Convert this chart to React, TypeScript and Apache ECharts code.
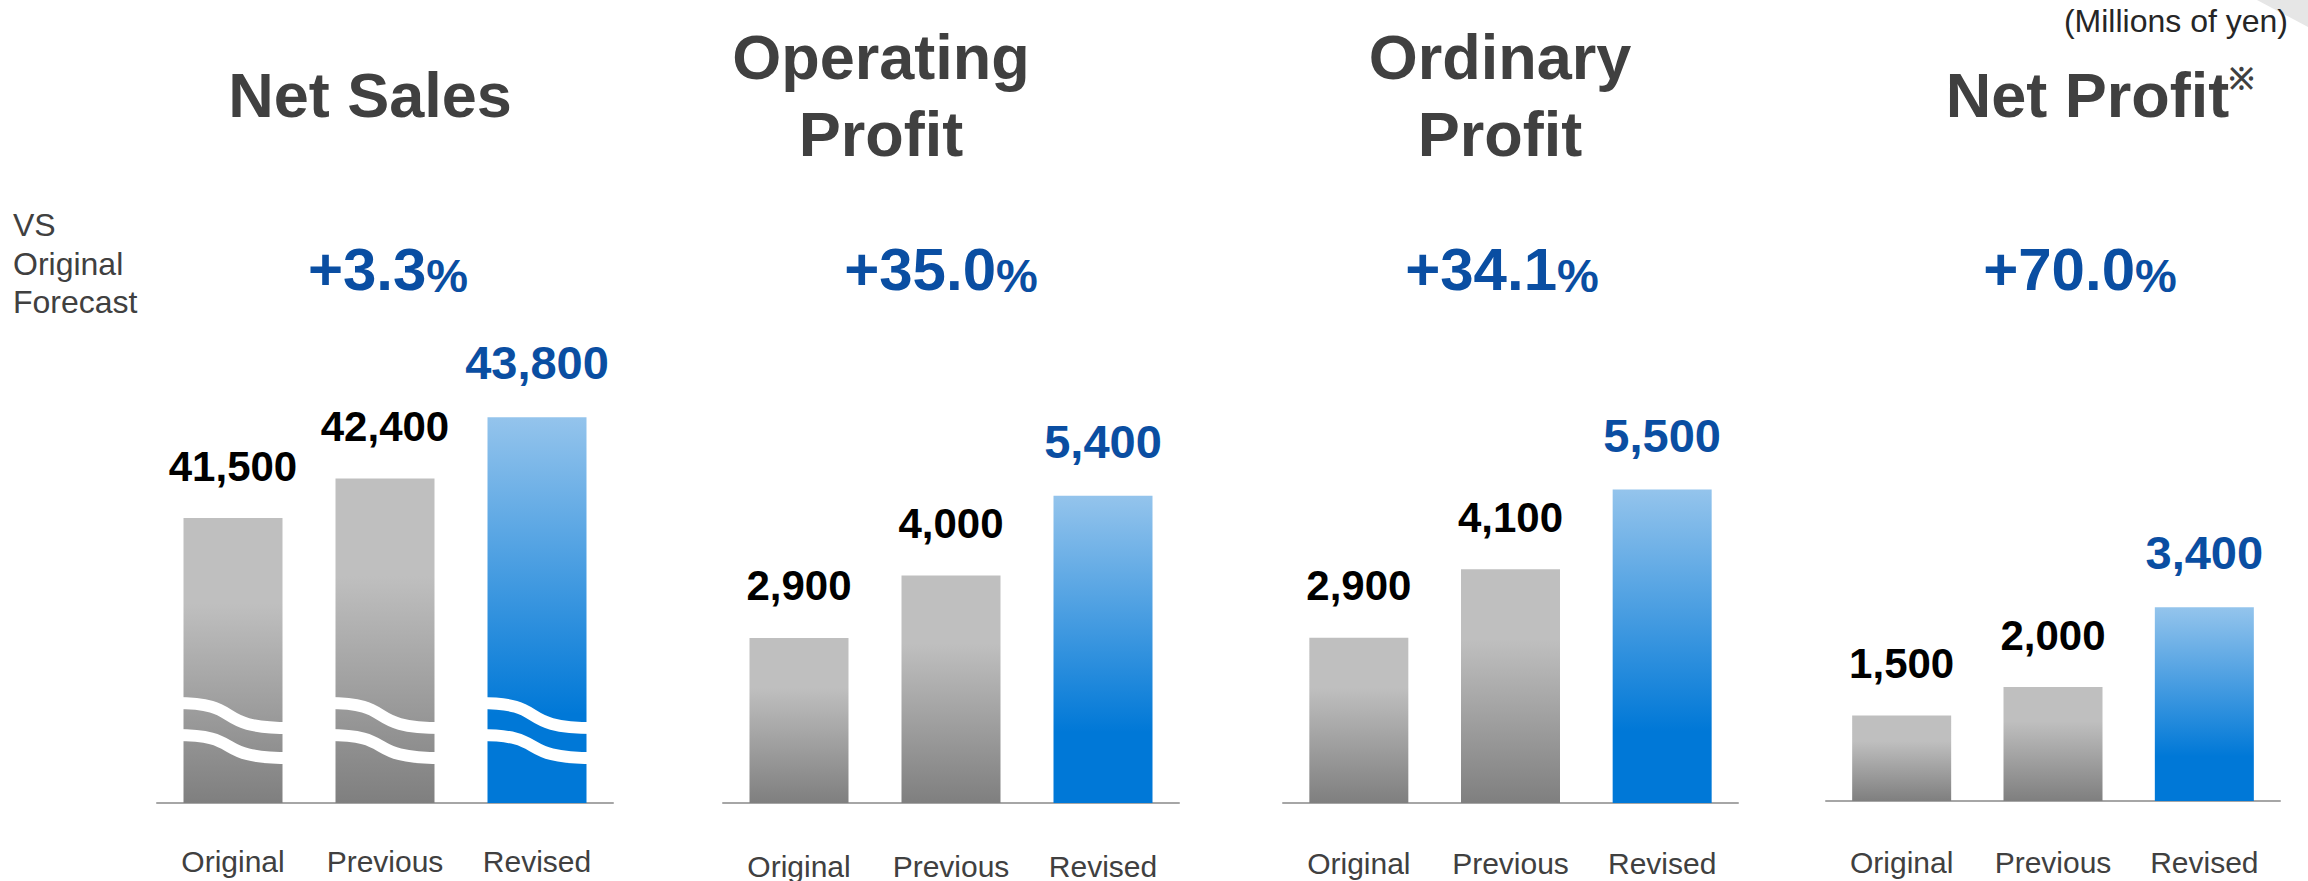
import React, { useEffect, useRef } from "react";
import * as echarts from "echarts";

// ---------- data ----------
const categories = ["Original", "Previous", "Revised"];
const panelTitles = ["Net Sales", "Operating\nProfit", "Ordinary\nProfit", "Net Profit"];
const netProfitNoteMark = "※";
const netSales = [41500, 42400, 43800];
const operatingProfit = [2900, 4000, 5400];
const ordinaryProfit = [2900, 4100, 5500];
const netProfit = [1500, 2000, 3400];
const changeVsOriginal = ["+3.3", "+35.0", "+34.1", "+70.0"];
const percentSign = "%";
const netSalesAxisMin = 35000;
const netSalesAxisMax = 48000;
const profitAxisMax = 10000;
const netSalesBreakValue = 36640;
const unitLabel = "(Millions of yen)";
const rowLabel = "VS\nOriginal\nForecast";

const panelValues = [netSales, operatingProfit, ordinaryProfit, netProfit];

// ---------- layout / style ----------
const FONT = "'Liberation Sans', Arial, sans-serif";
const BAR_WIDTH = 99;
const grids = [
  { left: 157, top: 233, width: 456, height: 570 },
  { left: 723, top: 234, width: 456, height: 570 },
  { left: 1283, top: 233, width: 455, height: 570 },
  { left: 1826, top: 231, width: 454, height: 570 },
];
const titleX = [370, 881, 1500, 2100];
const titleY = 95;
const pctX = [388, 941, 1502, 2080];
const pctY = 269;
const labelMargins = [43, 48, 45, 46];
const TITLE_COLOR = "#404040";
const BLUE_TEXT = "#0a4ea2";

const grayFill = () =>
  new echarts.graphic.LinearGradient(0, 0, 0, 1, [
    { offset: 0, color: "#bfbfbf" },
    { offset: 0.3, color: "#bfbfbf" },
    { offset: 1, color: "#7f7f7f" },
  ]);
const blueFill = () =>
  new echarts.graphic.LinearGradient(0, 0, 0, 1, [
    { offset: 0, color: "#94c4ec" },
    { offset: 0.77, color: "#0078d7" },
    { offset: 1, color: "#0078d7" },
  ]);

function buildOption(): any {
  const lastIdx = categories.length - 1;

  const barSeries = panelValues.map((vals, i) => ({
    type: "bar",
    xAxisIndex: i,
    yAxisIndex: i,
    barWidth: BAR_WIDTH,
    z: 2,
    data: vals.map((v, j) => {
      const revised = j === lastIdx;
      return {
        value: v,
        itemStyle: { color: revised ? blueFill() : grayFill() },
        label: {
          color: revised ? BLUE_TEXT : "#000000",
          fontSize: revised ? 47 : 42,
          lineHeight: revised ? 47 : 42,
        },
      };
    }),
    label: {
      show: true,
      position: "top",
      distance: 31,
      fontWeight: "bold",
      fontFamily: FONT,
      formatter: (p: any) => Number(p.value).toLocaleString("en-US"),
    },
  }));

  const waveSeries = {
    type: "custom",
    xAxisIndex: 0,
    yAxisIndex: 0,
    z: 5,
    clip: false,
    silent: true,
    data: categories.map((_, j) => [j, netSalesBreakValue]),
    encode: { x: 0, y: 1 },
    renderItem: (params: any, api: any) => {
      const pt = api.coord([api.value(0), api.value(1)]);
      const cx = pt[0];
      const cy = pt[1];
      const half = BAR_WIDTH / 2 + 8;
      const x1 = cx - half;
      const x2 = cx + half;
      const w = x2 - x1;
      const curve = (yA: number, yB: number) => ({
        type: "bezierCurve",
        shape: {
          x1,
          y1: yA,
          x2,
          y2: yB,
          cpx1: x1 + 0.62 * w,
          cpy1: yA,
          cpx2: x1 + 0.3 * w,
          cpy2: yB,
        },
        style: { stroke: "#ffffff", lineWidth: 12, fill: null },
      });
      return {
        type: "group",
        children: [curve(cy - 28, cy - 3), curve(cy + 4, cy + 27)],
      };
    },
  };

  const titleTexts = panelTitles.map((t, i) => {
    const isNote = i === panelTitles.length - 1;
    return {
      type: "text",
      x: titleX[i],
      y: titleY,
      style: isNote
        ? {
            text: `{t|${t}}{s|${netProfitNoteMark}}`,
            textAlign: "center",
            textVerticalAlign: "middle",
            rich: {
              t: { fontSize: 63, fontWeight: "bold", fontFamily: FONT, fill: TITLE_COLOR, lineHeight: 63 },
              s: { fontSize: 30, fontWeight: "bold", fontFamily: FONT, fill: TITLE_COLOR, verticalAlign: "top", lineHeight: 30 },
            },
          }
        : {
            text: t,
            fontSize: 63,
            fontWeight: "bold",
            fontFamily: FONT,
            fill: TITLE_COLOR,
            textAlign: "center",
            textVerticalAlign: "middle",
            lineHeight: 77,
          },
    };
  });

  const pctTexts = changeVsOriginal.map((c, i) => ({
    type: "text",
    x: pctX[i],
    y: pctY,
    style: {
      text: `{n|${c}}{p|${percentSign}}`,
      textAlign: "center",
      textVerticalAlign: "middle",
      rich: {
        n: { fontSize: 60, fontWeight: "bold", fontFamily: FONT, fill: BLUE_TEXT, lineHeight: 60 },
        p: { fontSize: 47, fontWeight: "bold", fontFamily: FONT, fill: BLUE_TEXT, lineHeight: 40, verticalAlign: "bottom" },
      },
    },
  }));

  return {
    animation: false,
    backgroundColor: "#ffffff",
    grid: grids.map((g) => ({ ...g })),
    xAxis: grids.map((_, i) => ({
      type: "category",
      gridIndex: i,
      data: categories,
      axisLine: { show: true, onZero: false, lineStyle: { color: "#a6a6a6", width: 2 } },
      axisTick: { show: false },
      splitLine: { show: false },
      axisLabel: {
        color: TITLE_COLOR,
        fontSize: 30,
        fontFamily: FONT,
        margin: labelMargins[i],
        interval: 0,
      },
    })),
    yAxis: grids.map((_, i) => ({
      type: "value",
      gridIndex: i,
      show: false,
      min: i === 0 ? netSalesAxisMin : 0,
      max: i === 0 ? netSalesAxisMax : profitAxisMax,
      startValue: i === 0 ? netSalesAxisMin : 0,
      splitLine: { show: false },
    })),
    series: [...barSeries, waveSeries],
    graphic: [
      {
        type: "polygon",
        shape: { points: [[2257, 0], [2308, 0], [2308, 27]] },
        style: { fill: "#e6e6e6" },
        silent: true,
      },
      {
        type: "text",
        x: 2288,
        y: 21,
        style: {
          text: unitLabel,
          fontSize: 32,
          fontFamily: FONT,
          fill: "#262626",
          textAlign: "right",
          textVerticalAlign: "middle",
        },
      },
      {
        type: "text",
        x: 13,
        y: 206,
        style: {
          text: rowLabel,
          fontSize: 32,
          fontFamily: FONT,
          fill: TITLE_COLOR,
          textAlign: "left",
          textVerticalAlign: "top",
          lineHeight: 38.5,
        },
      },
      ...titleTexts,
      ...pctTexts,
    ],
  };
}

export default function App() {
  const ref = useRef<HTMLDivElement>(null);
  useEffect(() => {
    if (!ref.current) return;
    const chart = echarts.init(ref.current, null, { renderer: "svg" });
    chart.setOption(buildOption());
    return () => chart.dispose();
  }, []);
  return (
    <div
      ref={ref}
      style={{ position: "fixed", left: 0, top: 0, width: 2308, height: 881, background: "#ffffff" }}
    />
  );
}
